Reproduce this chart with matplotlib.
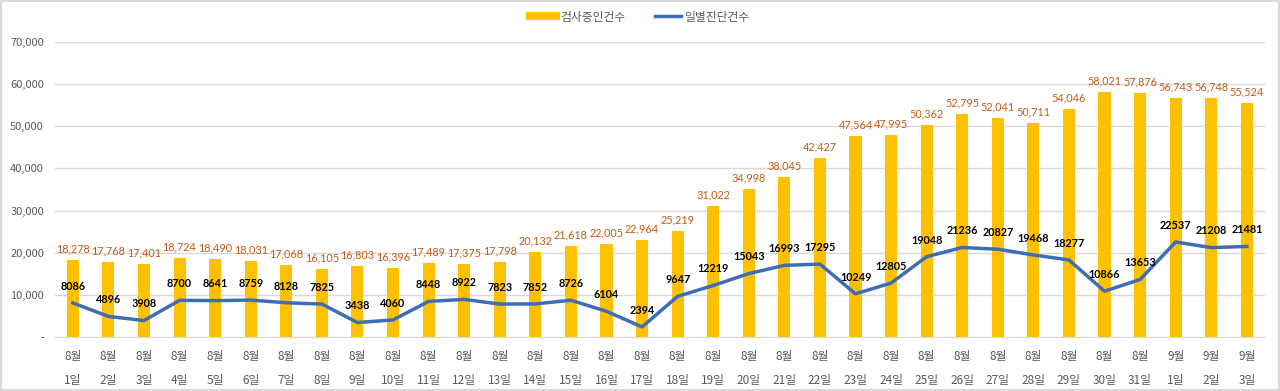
import matplotlib.pyplot as plt
from matplotlib.lines import Line2D

plt.rcParams['font.family'] = ['Noto Sans CJK KR', 'DejaVu Sans']
num_font = 'Lato'

days = ['8월\n1일', '8월\n2일', '8월\n3일', '8월\n4일', '8월\n5일', '8월\n6일', '8월\n7일',
        '8월\n8일', '8월\n9일', '8월\n10일', '8월\n11일', '8월\n12일', '8월\n13일', '8월\n14일',
        '8월\n15일', '8월\n16일', '8월\n17일', '8월\n18일', '8월\n19일', '8월\n20일', '8월\n21일',
        '8월\n22일', '8월\n23일', '8월\n24일', '8월\n25일', '8월\n26일', '8월\n27일', '8월\n28일',
        '8월\n29일', '8월\n30일', '8월\n31일', '9월\n1일', '9월\n2일', '9월\n3일']

testing = [18278, 17768, 17401, 18724, 18490, 18031, 17068, 16105, 16803, 16396,
           17489, 17375, 17798, 20132, 21618, 22005, 22964, 25219, 31022, 34998,
           38045, 42427, 47564, 47995, 50362, 52795, 52041, 50711, 54046, 58021,
           57876, 56743, 56748, 55524]

daily = [8086, 4896, 3908, 8700, 8641, 8759, 8128, 7825, 3438, 4060,
         8448, 8922, 7823, 7852, 8726, 6104, 2394, 9647, 12219, 15043,
         16993, 17295, 10249, 12805, 19048, 21236, 20827, 19468, 18277, 10866,
         13653, 22537, 21208, 21481]

bar_color = '#FFC000'
line_color = '#3F6DB5'

fig = plt.figure(figsize=(12.8, 3.91), dpi=100)
ax = fig.add_axes([0.043, 0.138, 0.945, 0.755])

x = list(range(len(days)))
ax.bar(x, testing, width=0.34, color=bar_color, zorder=2)
ax.plot(x, daily, color=line_color, linewidth=2.5, zorder=3)

for xi, v in zip(x, testing):
    ax.annotate(f'{v:,}', (xi, v), xytext=(0, 4), textcoords='offset points',
                ha='center', va='bottom', fontsize=7.8, color='#C55A11', family=num_font)
for xi, v in zip(x, daily):
    ax.annotate(str(v), (xi, v), xytext=(0, 8), textcoords='offset points',
                ha='center', va='bottom', fontsize=7.8, color='black', fontweight='bold',
                family=num_font, zorder=4)

ax.set_xlim(-0.5, len(days) - 0.5)
ax.set_ylim(0, 70000)
ax.set_yticks(range(0, 70001, 10000))
ax.set_yticklabels(['-'] + [f'{v:,}' for v in range(10000, 70001, 10000)])
ax.set_xticks(x)
ax.set_xticklabels(days, linespacing=2.1, fontsize=8.5)
ax.tick_params(axis='both', length=0, labelsize=8, labelcolor='#595959', pad=8)
ax.tick_params(axis='x', labelsize=8.5, pad=9)
ax.yaxis.grid(True, color='#D9D9D9', linewidth=1, zorder=0)
for s in ['top', 'right', 'left']:
    ax.spines[s].set_visible(False)
ax.spines['bottom'].set_color('#D9D9D9')

handles = [Line2D([], [], color=bar_color, linewidth=6),
           Line2D([], [], color=line_color, linewidth=2.5)]
fig.legend(handles, ['검사중인건수', '일별진단건수'], loc='upper center',
           bbox_to_anchor=(0.5, 1.0), ncol=2, frameon=False, fontsize=8.5,
           handlelength=2.2, handletextpad=0.3, columnspacing=2.5,
           labelcolor='#595959')

fig.patches.append(plt.Rectangle((0.001, 0.002), 0.998, 0.996, transform=fig.transFigure,
                                 fill=False, edgecolor='#D9D9D9', linewidth=1.5))

fig.savefig('out.png', dpi=100)
